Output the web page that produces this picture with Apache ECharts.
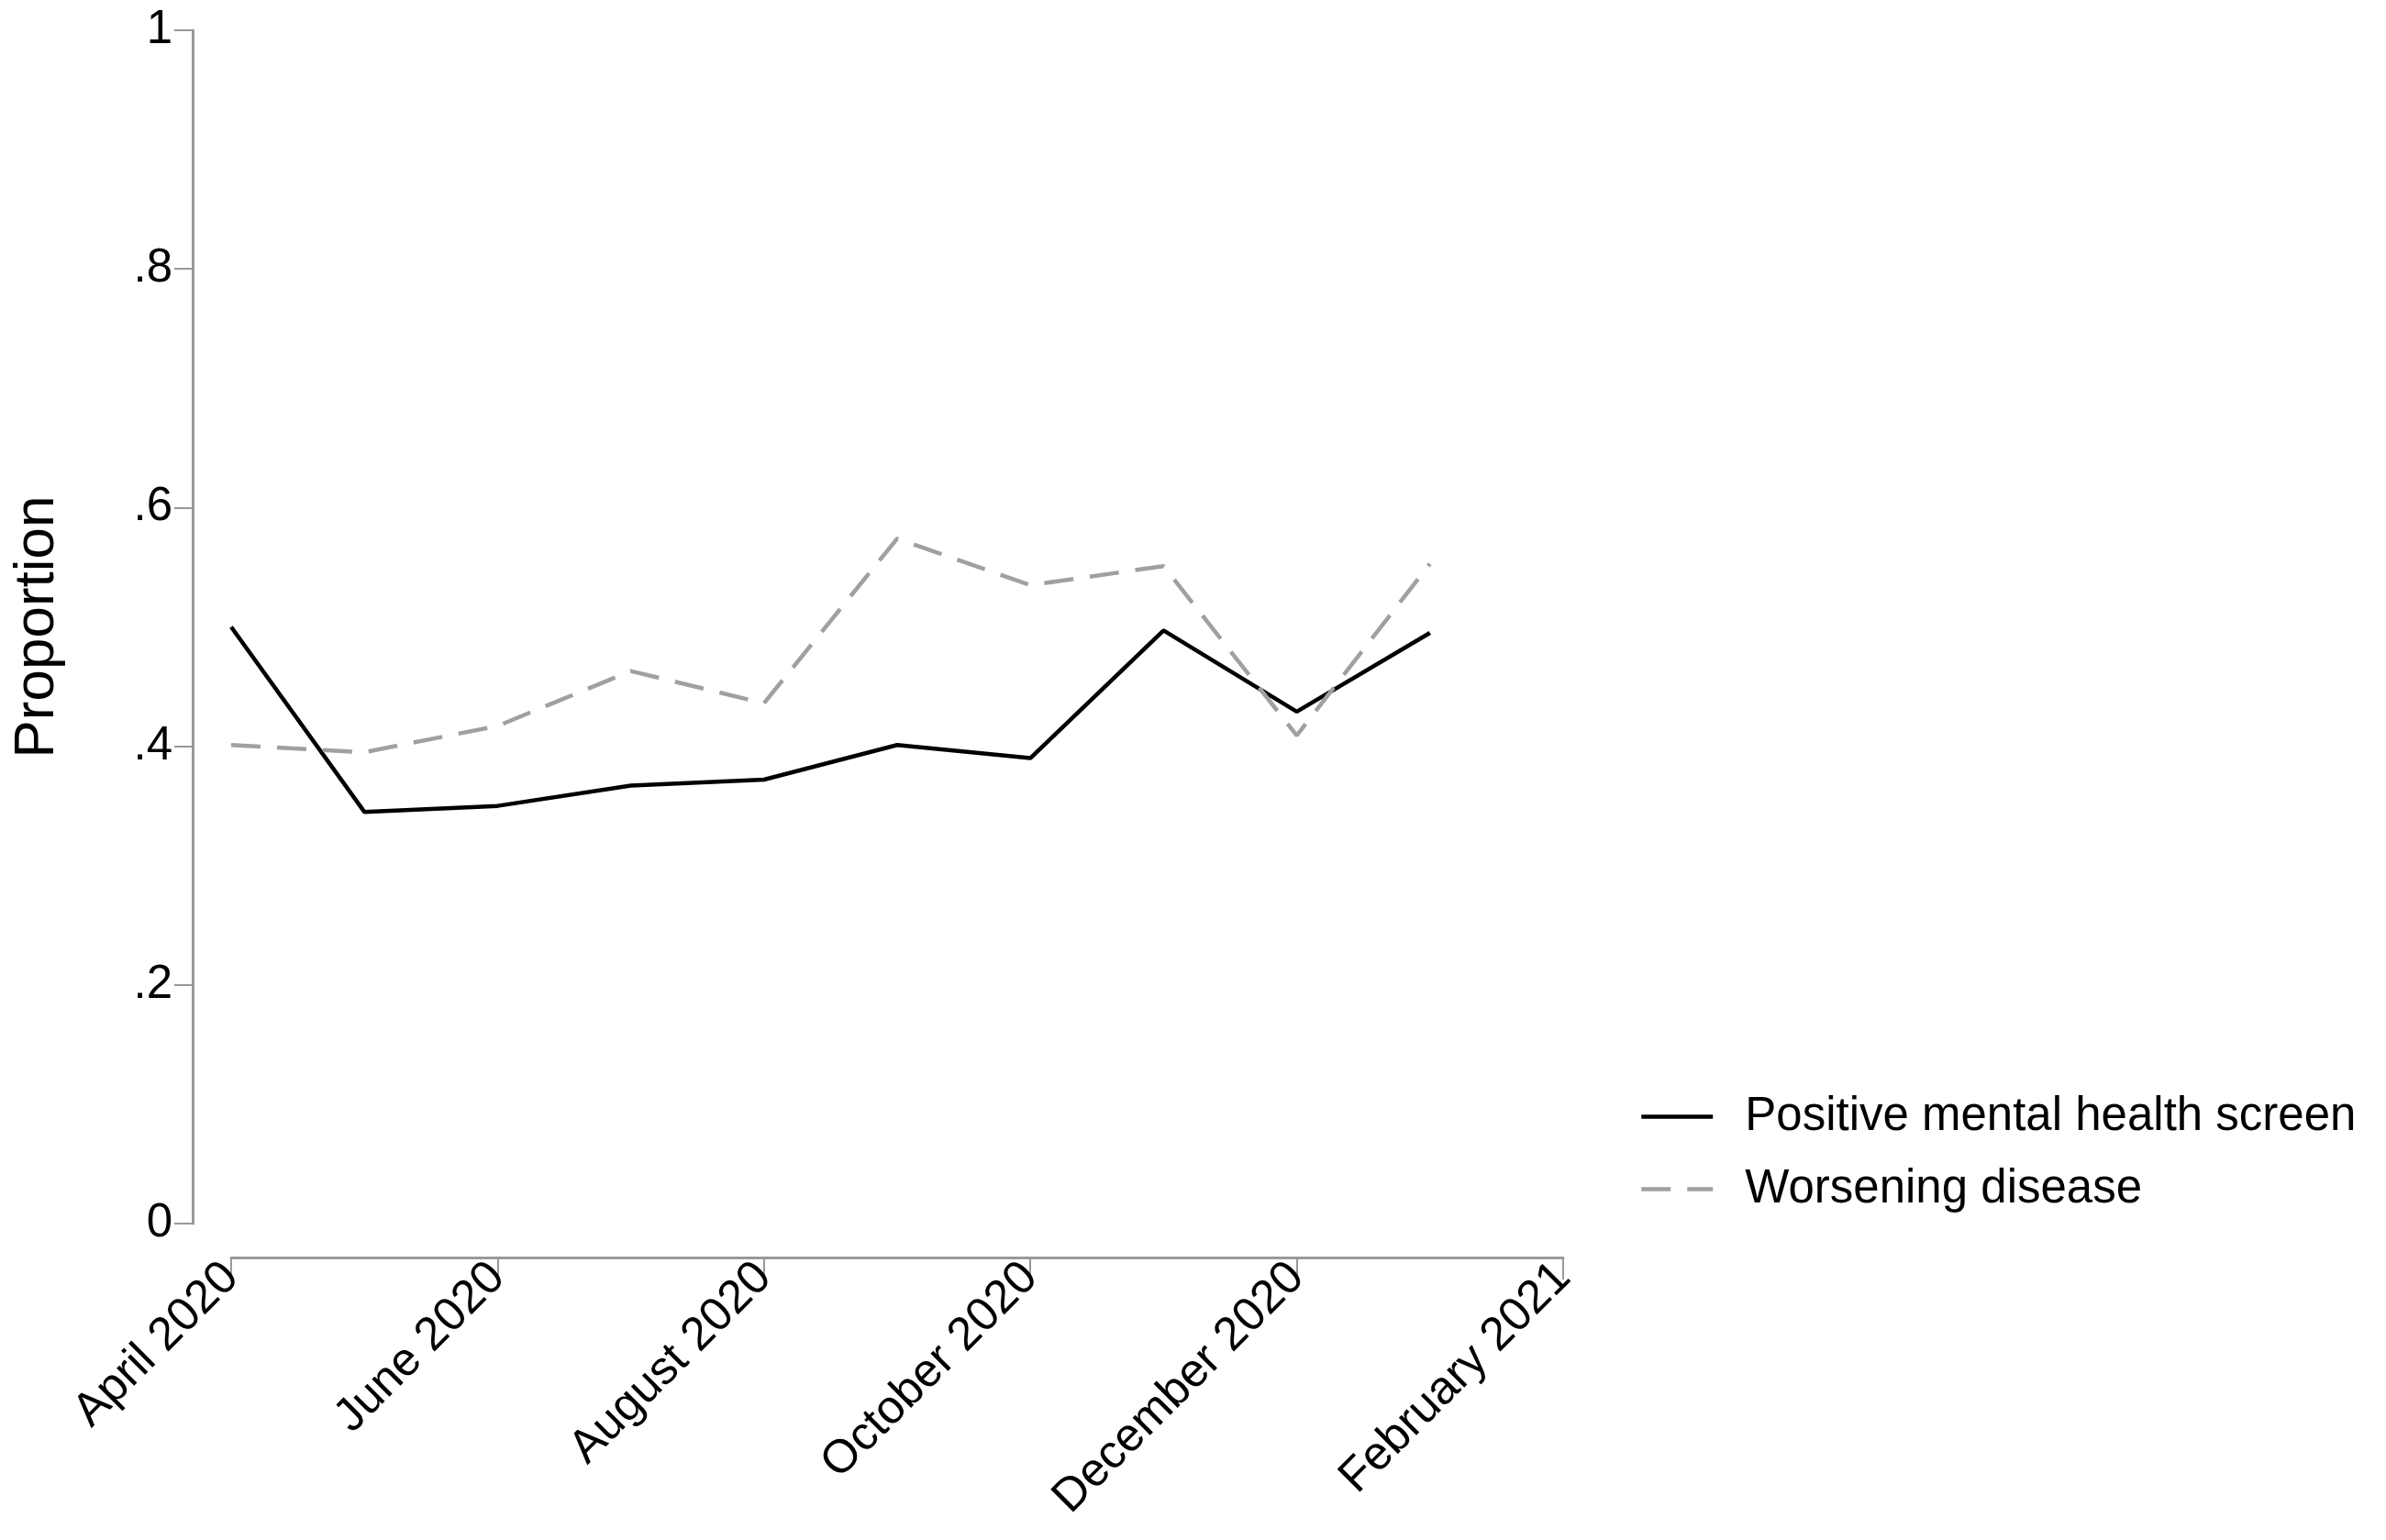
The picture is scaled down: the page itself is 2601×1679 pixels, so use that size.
<!DOCTYPE html>
<html>
<head>
<meta charset="utf-8">
<script src="https://cdn.jsdelivr.net/npm/echarts@6/dist/echarts.min.js"></script>
<style>
html,body{margin:0;padding:0;background:#fff;}
#chart{width:2601px;height:1679px;}
</style>
</head>
<body>
<div id="chart"></div>
<script>
// Survey months (April 2020 = month 0)
const months = ['Apr 2020','May 2020','Jun 2020','Jul 2020','Aug 2020','Sep 2020','Oct 2020','Nov 2020','Dec 2020','Jan 2021'];
const mentalHealth = [0.500, 0.345, 0.350, 0.367, 0.372, 0.401, 0.390, 0.497, 0.429, 0.495];
const worsening   = [0.401, 0.395, 0.417, 0.463, 0.436, 0.574, 0.535, 0.551, 0.409, 0.553];
const xTickLabels = ['April 2020','June 2020','August 2020','October 2020','December 2020','February 2021'];
const yTickLabels = {0:'0',0.2:'.2',0.4:'.4',0.6:'.6',0.8:'.8',1:'1'};
const seriesNames = ['Positive mental health screen','Worsening disease'];

const FONT = '"Liberation Sans", Arial, sans-serif';
const toPairs = arr => arr.map((v, i) => [i, v]);

const chart = echarts.init(document.getElementById('chart'));
chart.setOption({
  animation: false,
  backgroundColor: '#ffffff',
  grid: { left: 252, right: 897, top: 33, bottom: 345, containLabel: false },
  legend: {
    orient: 'vertical',
    left: 1782, top: 1187,
    itemWidth: 78, itemHeight: 14, itemGap: 28,
    itemStyle: { opacity: 0 },
    lineStyle: { width: 4.5 },
    textStyle: { fontFamily: FONT, fontSize: 51, color: '#000', padding: [0,0,0,30] },
    data: seriesNames.map(n => ({ name: n }))
  },
  xAxis: {
    type: 'value', min: 0, max: 10, interval: 2,
    offset: 37,
    axisLine: { show: true, onZero: false, lineStyle: { color: '#999', width: 3 } },
    axisTick: { show: true, length: 24, lineStyle: { color: '#999', width: 2 } },
    splitLine: { show: false },
    axisLabel: {
      rotate: 45, margin: 14,
      fontFamily: FONT, fontSize: 51, color: '#000',
      formatter: v => xTickLabels[Math.round(v / 2)] || ''
    }
  },
  yAxis: {
    type: 'value', min: 0, max: 1, interval: 0.2,
    offset: 42,
    name: 'Proportion', nameLocation: 'middle', nameGap: 138,
    nameTextStyle: { fontFamily: FONT, fontSize: 62, color: '#000' },
    axisLine: { show: true, onZero: false, lineStyle: { color: '#999', width: 3 } },
    axisTick: { show: true, length: 20, lineStyle: { color: '#999', width: 2 } },
    splitLine: { show: false },
    axisLabel: {
      margin: 22, fontFamily: FONT, fontSize: 51, color: '#000',
      formatter: v => yTickLabels[Math.round(v * 10) / 10] ?? ''
    }
  },
  series: [
    {
      name: seriesNames[0], type: 'line', data: toPairs(mentalHealth),
      symbol: 'none', lineStyle: { color: '#000', width: 4.5 }, itemStyle: { color: '#000' }
    },
    {
      name: seriesNames[1], type: 'line', data: toPairs(worsening),
      symbol: 'none', lineStyle: { color: '#a0a0a0', width: 4.5, type: [32, 18] }, itemStyle: { color: '#a0a0a0' }
    }
  ]
});
</script>
</body>
</html>
